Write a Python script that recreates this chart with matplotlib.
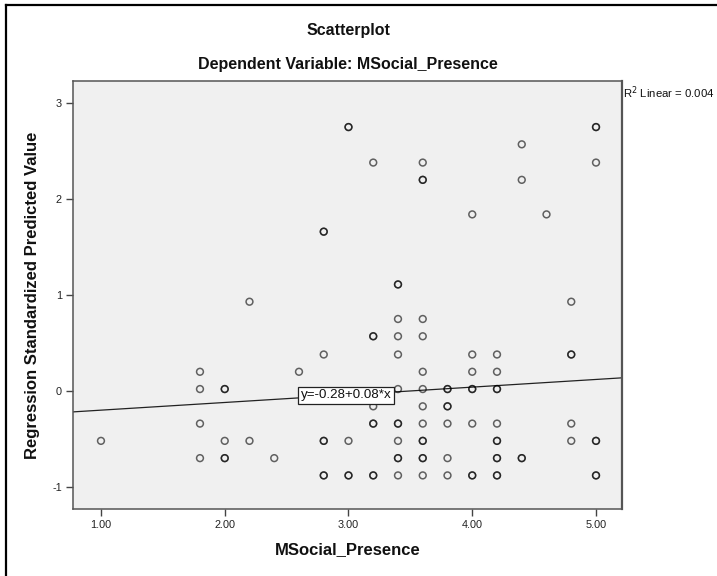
import numpy as np
import matplotlib
matplotlib.use("Agg")
import matplotlib.pyplot as plt
from matplotlib.lines import Line2D

# ---- data ----
# each entry: x value, standardized predicted value, number of overlapping cases
x_vals = [1.0,
          1.8, 1.8, 1.8, 1.8,
          2.0, 2.0, 2.0,
          2.2, 2.2,
          2.4,
          2.6,
          2.8, 2.8, 2.8, 2.8,
          3.0, 3.0, 3.0,
          3.2, 3.2, 3.2, 3.2, 3.2,
          3.4, 3.4, 3.4, 3.4, 3.4, 3.4, 3.4, 3.4, 3.4,
          3.6, 3.6, 3.6, 3.6, 3.6, 3.6, 3.6, 3.6, 3.6, 3.6, 3.6,
          3.8, 3.8, 3.8, 3.8, 3.8,
          4.0, 4.0, 4.0, 4.0, 4.0, 4.0,
          4.2, 4.2, 4.2, 4.2, 4.2, 4.2, 4.2,
          4.4, 4.4, 4.4,
          4.6,
          4.8, 4.8, 4.8, 4.8,
          5.0, 5.0, 5.0, 5.0]
y_vals = [-0.52,
          0.20, 0.02, -0.34, -0.70,
          0.02, -0.52, -0.70,
          0.93, -0.52,
          -0.70,
          0.20,
          1.66, 0.38, -0.52, -0.88,
          2.75, -0.52, -0.88,
          2.38, 0.57, -0.16, -0.34, -0.88,
          1.11, 0.75, 0.57, 0.38, 0.02, -0.34, -0.52, -0.70, -0.88,
          2.38, 2.20, 0.75, 0.57, 0.20, 0.02, -0.16, -0.34, -0.52, -0.70, -0.88,
          0.02, -0.16, -0.34, -0.70, -0.88,
          1.84, 0.38, 0.20, 0.02, -0.34, -0.88,
          0.38, 0.20, 0.02, -0.34, -0.52, -0.70, -0.88,
          2.57, 2.20, -0.70,
          1.84,
          0.93, 0.38, -0.34, -0.52,
          2.75, 2.38, -0.52, -0.88]
counts = [1,
          1, 1, 1, 1,
          2, 1, 2,
          1, 1,
          1,
          1,
          2, 1, 2, 2,
          2, 1, 2,
          1, 2, 1, 2, 2,
          2, 1, 1, 1, 1, 2, 1, 2, 1,
          1, 2, 1, 1, 1, 1, 1, 1, 2, 2, 1,
          2, 2, 1, 1, 1,
          1, 1, 1, 2, 1, 2,
          1, 1, 2, 1, 2, 2, 2,
          1, 1, 2,
          1,
          1, 2, 1, 1,
          2, 1, 2, 2]

fit_intercept = -0.28
fit_slope = 0.08
r2_linear = 0.004

x_ticks = [1.0, 2.0, 3.0, 4.0, 5.0]
x_tick_labels = ["1.00", "2.00", "3.00", "4.00", "5.00"]
y_ticks = [-1, 0, 1, 2, 3]
y_tick_labels = ["-1", "0", "1", "2", "3"]

title_main = "Scatterplot"
title_sub = "Dependent Variable: MSocial_Presence"
x_label = "MSocial_Presence"
y_label = "Regression Standardized Predicted Value"

# ---- figure ----
plt.rcParams['font.family'] = ['Liberation Sans', 'DejaVu Sans']
W, H = 717, 576
fig = plt.figure(figsize=(W / 100, H / 100), dpi=100)
fig.patch.set_facecolor('white')

L, R, T, B = 73, 622, 81, 509
ax = fig.add_axes([L / W, 1 - B / H, (R - L) / W, (B - T) / H])
ax.set_facecolor('#f0f0f0')
ax.set_xlim(0.774, 5.21)
ax.set_ylim(-1.23, 3.23)

xs = np.repeat(np.array(x_vals), counts)
ys = np.repeat(np.array(y_vals), counts)
ax.scatter(xs, ys, s=24, facecolors='none', edgecolors=(0, 0, 0, 0.6),
           linewidths=1.1, zorder=3)

# fit line
lx = np.array(ax.get_xlim())
ax.plot(lx, fit_intercept + fit_slope * lx, color='#222222', lw=0.9, zorder=2)
ax.set_xlim(0.774, 5.21)

ax.text(2.98, -0.045, "y=-0.28+0.08*x", ha='center', va='center', fontsize=9.6,
        color='#111111', zorder=5,
        bbox=dict(boxstyle='square,pad=0.2', facecolor='white', edgecolor='#222222', lw=0.9))

ax.set_xticks(x_ticks)
ax.set_xticklabels(x_tick_labels)
ax.set_yticks(y_ticks)
ax.set_yticklabels(y_tick_labels)
ax.tick_params(direction='out', length=5, width=1, color='#444444', labelsize=7.8,
               labelcolor='#222222', pad=3)
for s in ax.spines.values():
    s.set_color('#555555')
    s.set_linewidth(1.1)
ax.spines['right'].set_linewidth(1.6)

fig.text(348 / W, 1 - 31 / H, title_main, ha='center', va='center', fontsize=11.5,
         fontweight='bold', color='#111111')
fig.text(348 / W, 1 - 64 / H, title_sub, ha='center', va='center', fontsize=11.5,
         fontweight='bold', color='#111111')
fig.text(348 / W, 1 - 550 / H, x_label, ha='center', va='center', fontsize=12,
         fontweight='bold', color='#111111')
fig.text(33 / W, 1 - 295 / H, y_label, ha='center', va='center', fontsize=12,
         fontweight='bold', color='#111111', rotation=90)
fig.text(623 / W, 1 - 93 / H, "R$^2$ Linear = %.3f" % r2_linear, ha='left', va='center',
         fontsize=8.2, color='#111111')

# outer frame (left and top edges visible)
fig.add_artist(Line2D([6 / W, 6 / W], [0, 1 - 5 / H], transform=fig.transFigure,
                      color='black', lw=1.6))
fig.add_artist(Line2D([6 / W, 1], [1 - 5 / H, 1 - 5 / H], transform=fig.transFigure,
                      color='black', lw=1.6))

fig.savefig('out.png', dpi=100, facecolor='white')
